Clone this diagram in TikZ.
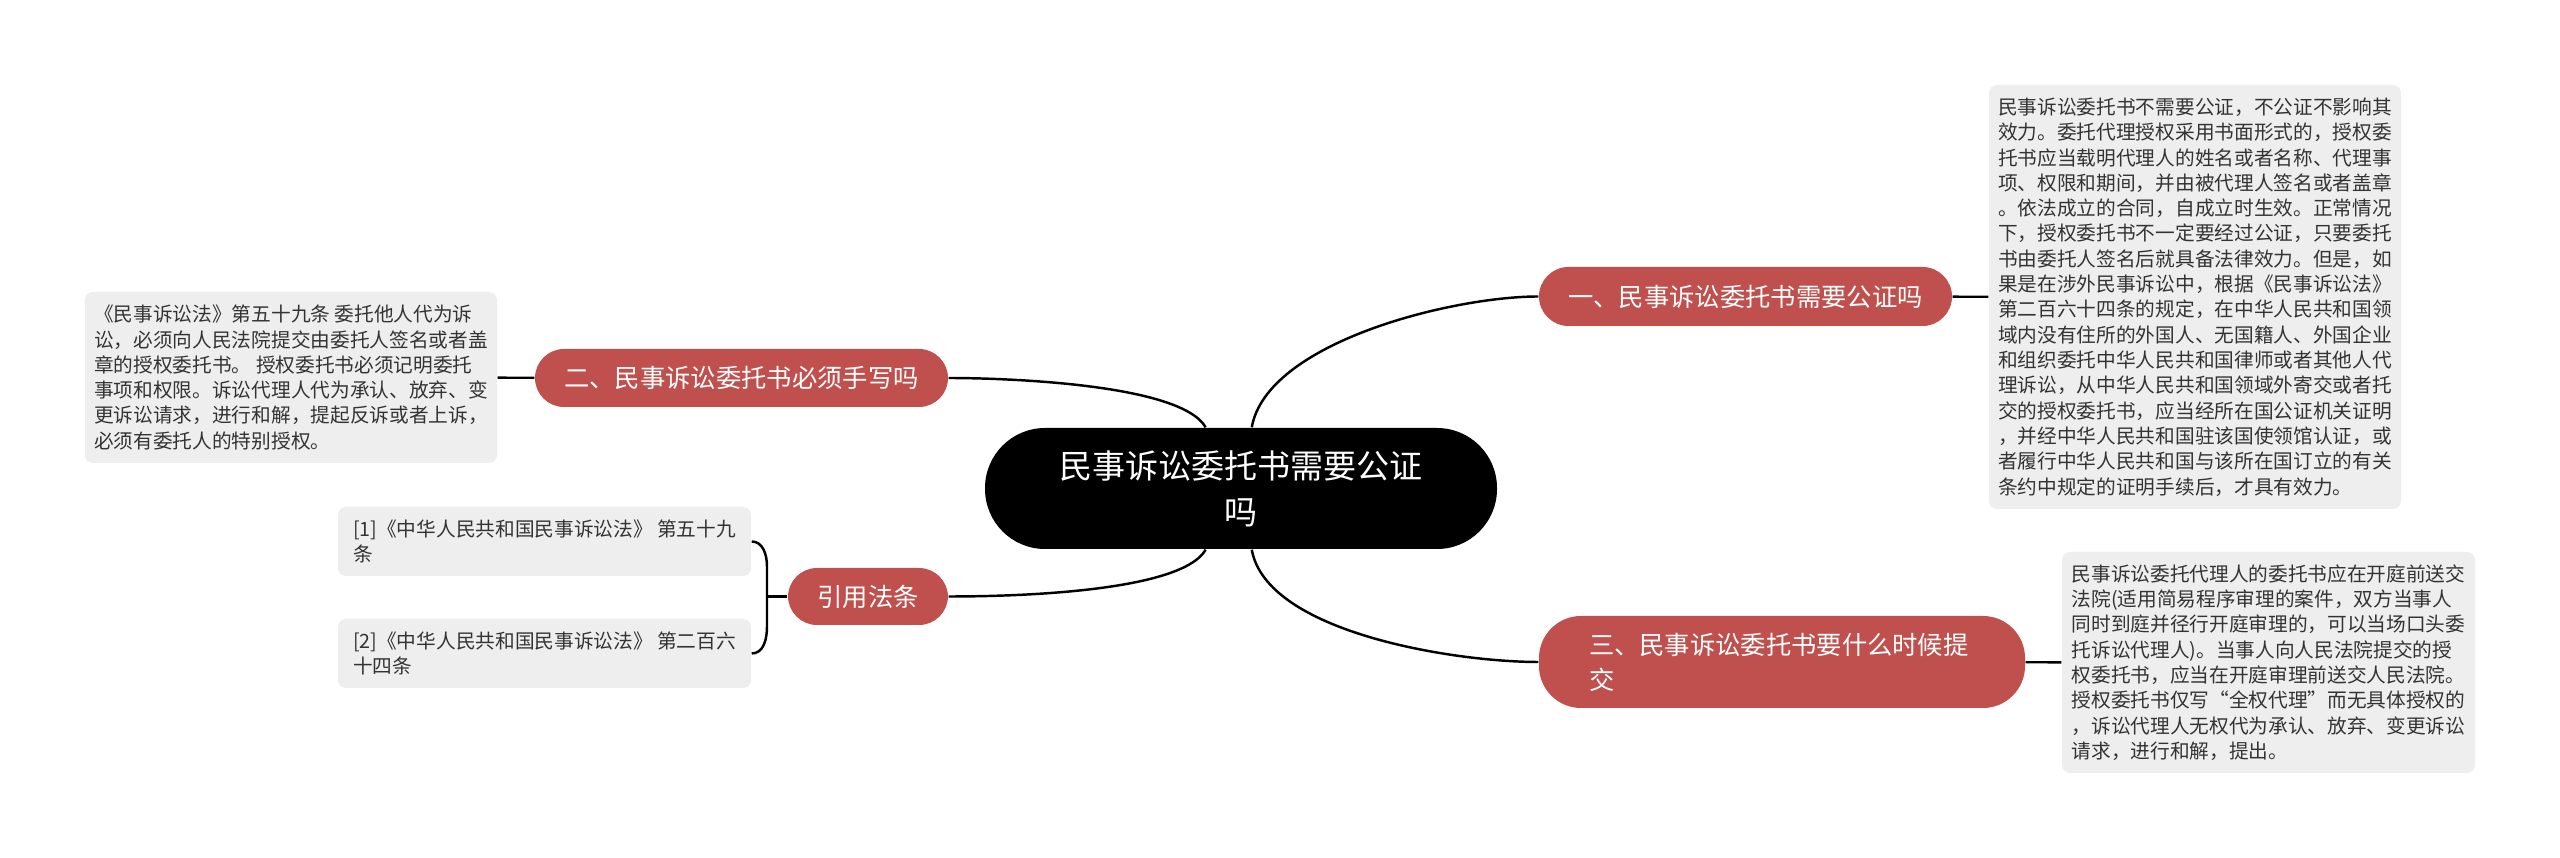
\documentclass[tikz,border=0pt]{standalone}
\usepackage{fontspec}
\setmainfont{Noto Sans CJK SC}
\definecolor{branchred}{RGB}{192,80,77}
\definecolor{notegray}{RGB}{238,238,238}
\tikzset{
	link/.style={line width=0.7pt, black},
	rootbox/.style={fill=black, text=white, rounded corners=0.6cm, minimum width=5.12cm, minimum height=1.21cm, align=center, font=\fontsize{9.4pt}{13.1pt}\selectfont},
	topic/.style={fill=branchred, text=white, rounded corners=0.29cm, minimum height=0.58cm, inner sep=0pt, font=\fontsize{7.2pt}{10pt}\selectfont},
	note/.style={fill=notegray, text=black!80, rounded corners=0.08cm, align=left, inner xsep=0.09cm, inner ysep=0pt, font=\fontsize{5.6pt}{7.2pt}\selectfont}
}

\begin{document}
\begin{tikzpicture}
				\fill[white] (0,0) rectangle (25.6,-8.58);
				\useasboundingbox (0,0) rectangle (25.6,-8.58);
				
				\node[rootbox] (root) at (12.41,-4.885) {民事诉讼委托书需要公证\\吗};
				
				\node[topic, minimum width=4.13cm, minimum height=0.59cm, rounded corners=0.295cm] (sec1) at (17.455,-2.965) {一、民事诉讼委托书需要公证吗};
				\node[topic, minimum width=4.13cm] (sec2) at (7.415,-3.78) {二、民事诉讼委托书必须手写吗};
				\node[topic, minimum width=1.6cm, minimum height=0.57cm] (quote) at (8.68,-5.965) {引用法条};
				\node[topic, text width=3.86cm, inner xsep=0.5cm, minimum height=0.92cm, rounded corners=0.42cm, align=left] (sec3) at (17.82,-6.62) {三、民事诉讼委托书要什么时候提\\交};
				
				\node[note, minimum width=4.12cm, minimum height=4.24cm] (t1) at (21.95,-2.97) {民事诉讼委托书不需要公证，不公证不影响其\\效力。委托代理授权采用书面形式的，授权委\\托书应当载明代理人的姓名或者名称、代理事\\项、权限和期间，并由被代理人签名或者盖章\\。依法成立的合同，自成立时生效。正常情况\\下，授权委托书不一定要经过公证，只要委托\\书由委托人签名后就具备法律效力。但是，如\\果是在涉外民事诉讼中，根据《民事诉讼法》\\第二百六十四条的规定，在中华人民共和国领\\域内没有住所的外国人、无国籍人、外国企业\\和组织委托中华人民共和国律师或者其他人代\\理诉讼，从中华人民共和国领域外寄交或者托\\交的授权委托书，应当经所在国公证机关证明\\，并经中华人民共和国驻该国使领馆认证，或\\者履行中华人民共和国与该所在国订立的有关\\条约中规定的证明手续后，才具有效力。};
				\node[note, minimum width=4.12cm, minimum height=1.71cm] (t2) at (2.91,-3.775) {《民事诉讼法》第五十九条 委托他人代为诉\\讼，必须向人民法院提交由委托人签名或者盖\\章的授权委托书。 授权委托书必须记明委托\\事项和权限。诉讼代理人代为承认、放弃、变\\更诉讼请求，进行和解，提起反诉或者上诉，\\必须有委托人的特别授权。};
				\node[note, minimum width=4.13cm, minimum height=2.21cm] (t3) at (22.685,-6.625) {民事诉讼委托代理人的委托书应在开庭前送交\\法院(适用简易程序审理的案件，双方当事人\\同时到庭并径行开庭审理的，可以当场口头委\\托诉讼代理人)。当事人向人民法院提交的授\\权委托书，应当在开庭审理前送交人民法院。\\授权委托书仅写“全权代理”而无具体授权的\\，诉讼代理人无权代为承认、放弃、变更诉讼\\请求，进行和解，提出。};
				\node[note, minimum width=4.13cm, minimum height=0.69cm, inner xsep=0.15cm] (r1) at (5.445,-5.415) {[1]《中华人民共和国民事诉讼法》 第五十九\\条};
				\node[note, minimum width=4.13cm, minimum height=0.69cm, inner xsep=0.15cm] (r2) at (5.445,-6.535) {[2]《中华人民共和国民事诉讼法》 第二百六\\十四条};
				
				\draw[link] (root) to[out=80,in=180,looseness=0.7] (sec1);
				\draw[link] (root) to[out=-80,in=180,looseness=0.7] (sec3);
				\draw[link] (root) to[out=120,in=0,looseness=0.5] (sec2);
				\draw[link] (root) to[out=-120,in=0,looseness=0.5] (quote);
				
				\draw[link] (sec1) -- (t1);
				\draw[link] (sec2) -- (t2);
				\draw[link] (sec3) -- (t3);
				
				\coordinate (fork) at (7.67,-5.965);
				\draw[link] (fork) -- (quote);
				\draw[link] (r1.east) to[out=0,in=90] ([yshift=0.3cm]fork) -- ([yshift=-0.3cm]fork) to[out=-90,in=0] (r2.east);
\end{tikzpicture}
\end{document}
